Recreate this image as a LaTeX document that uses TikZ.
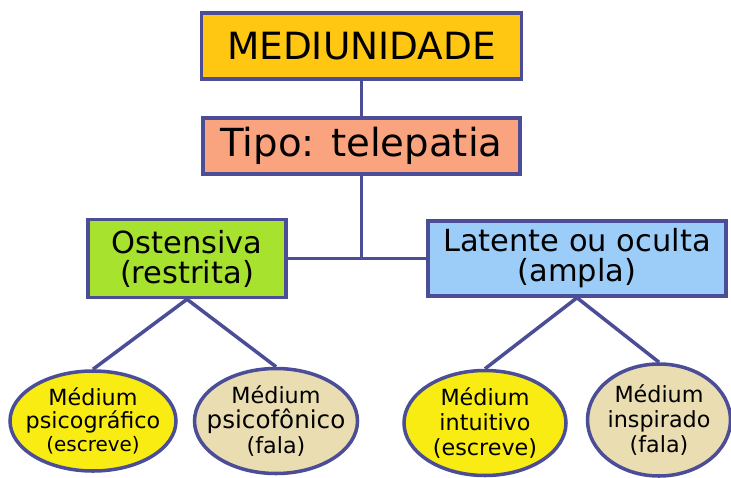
\documentclass[tikz,border=0pt]{standalone}
\usepackage{fontspec}
\setmainfont{DejaVu Sans}
\usetikzlibrary{shapes.geometric}
\definecolor{framecol}{HTML}{4B4E96}
\definecolor{topcol}{HTML}{FFC712}
\definecolor{tipocol}{HTML}{F9A47F}
\definecolor{greencol}{HTML}{A6E22E}
\definecolor{bluecol}{HTML}{9CCCF8}
\definecolor{yelcol}{HTML}{F8EC12}
\definecolor{beigecol}{HTML}{EADDB2}

\begin{document}
\begin{tikzpicture}[x=0.03cm,y=-0.03cm,
  box/.style={draw=framecol,line width=3pt,rectangle,inner sep=0pt,align=center},
  oval/.style={draw=framecol,line width=3pt,ellipse,inner xsep=-14pt,inner ysep=-4pt,
    align=center,font=\fontsize{19}{21}\selectfont},
  link/.style={framecol,line width=3pt}]
\useasboundingbox (0,0) rectangle (731,478);
% upper boxes
\node[box,fill=topcol,minimum width=9.6cm,minimum height=1.98cm,
  font=\fontsize{32}{32}\selectfont] (medi) at (361.5,46) {MEDIUNIDADE};
\node[box,fill=tipocol,minimum width=9.5cm,minimum height=1.68cm,
  font=\fontsize{33}{33}\selectfont] (tipo) at (361.5,146) {Tipo: telepatia};
% kinds
\node[box,fill=greencol,minimum width=5.94cm,minimum height=2.34cm,
  font=\fontsize{26}{25.6}\selectfont] (osten) at (187,258.5) {Ostensiva\\(restrita)};
\node[box,fill=bluecol,minimum width=8.94cm,minimum height=2.25cm,
  font=\fontsize{26}{25.6}\selectfont] (laten) at (577,258.5) {Latente ou oculta\\(ampla)};
% mediums
\node[oval,fill=yelcol,minimum width=4.98cm,minimum height=3.0cm,
  font=\fontsize{19}{19.6}\selectfont] (psicog) at (93,421)
  {Médium\\psicográfico\\\fontsize{17}{19.6}\selectfont (escreve)};
\node[oval,fill=beigecol,minimum width=4.89cm,minimum height=3.15cm] (psicof) at (276,421)
  {Médium\\\fontsize{21}{21}\selectfont psicofônico\\(fala)};
\node[oval,fill=yelcol,minimum width=4.86cm,minimum height=3.15cm] (intui) at (485,423)
  {Médium\\intuitivo\\(escreve)};
\node[oval,fill=beigecol,minimum width=4.29cm,minimum height=3.36cm] (inspi) at (659,420)
  {Médium\\inspirado\\(fala)};
% connectors
\draw[link] (medi) -- (tipo);
\draw[link] (tipo.south) -- (tipo.south |- osten.east);
\draw[link] (osten.east) -- (laten.west);
\draw[link] (psicog.north) -- (osten.south) -- (psicof.north);
\draw[link] (intui.north) -- (laten.south) -- (inspi.north);
\end{tikzpicture}
\end{document}
